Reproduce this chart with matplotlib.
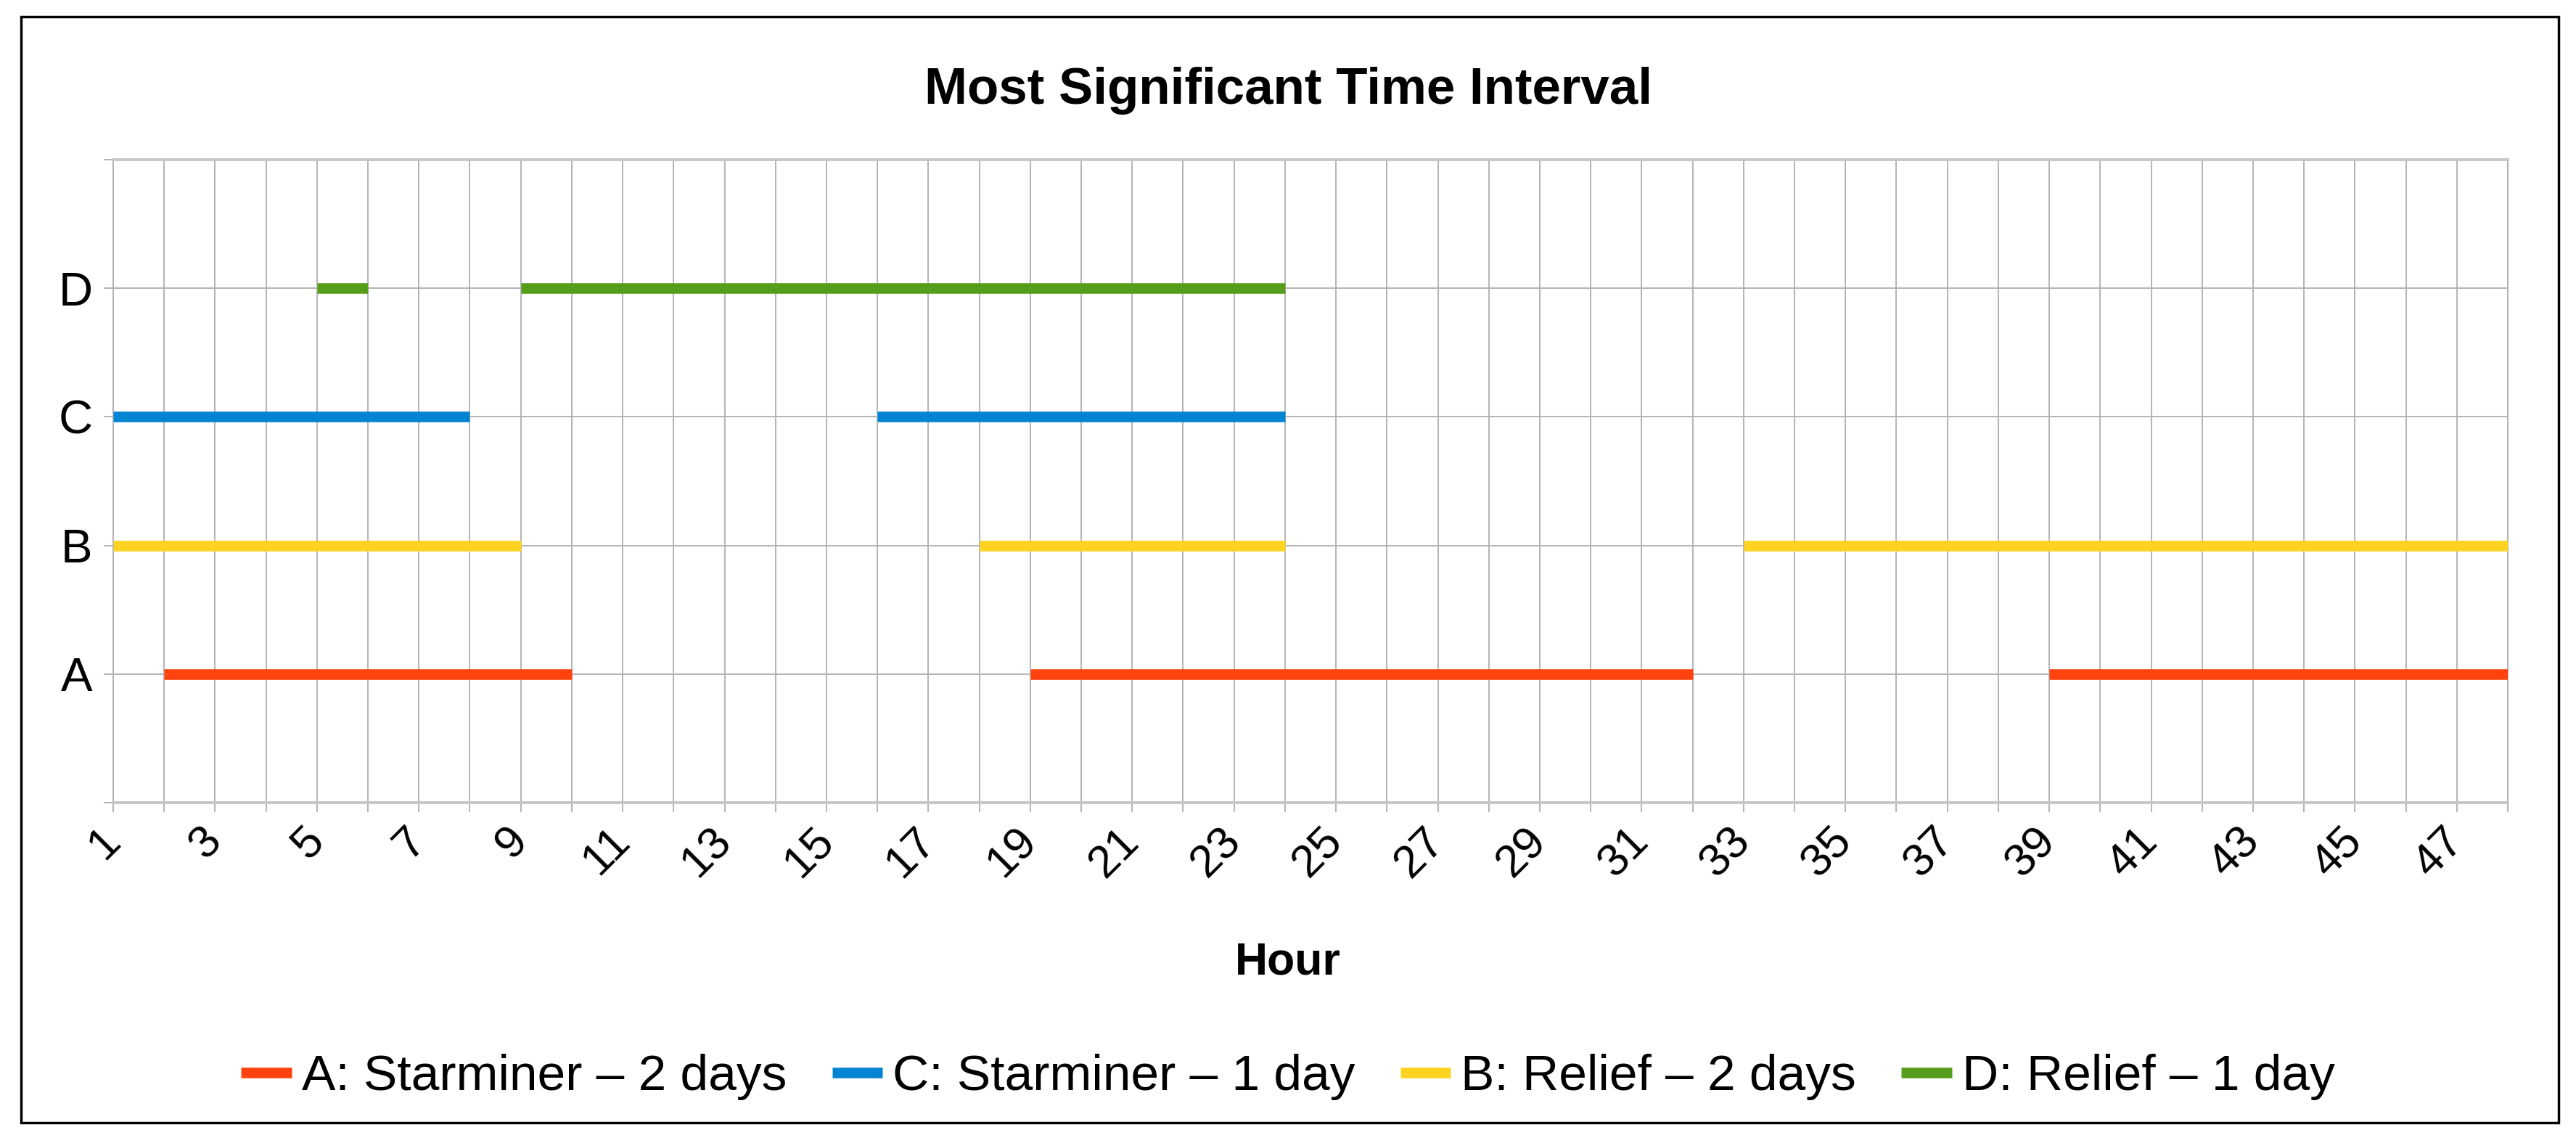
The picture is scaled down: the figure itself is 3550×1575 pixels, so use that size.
import matplotlib
matplotlib.use("Agg")
import matplotlib.pyplot as plt
from matplotlib.patches import Rectangle
from matplotlib.lines import Line2D

plt.rcParams['font.family'] = ['Liberation Sans', 'DejaVu Sans']

# ---- data ----
categories = ["A", "B", "C", "D"]
hours = list(range(1, 49))
hour_labels = ["1", "", "3", "", "5", "", "7", "", "9", "", "11", "", "13", "", "15", "",
               "17", "", "19", "", "21", "", "23", "", "25", "", "27", "", "29", "", "31", "",
               "33", "", "35", "", "37", "", "39", "", "41", "", "43", "", "45", "", "47", ""]

a_starts = [2, 19, 39]
a_ends = [10, 32, 48]
b_starts = [1, 18, 33]
b_ends = [9, 24, 48]
c_starts = [1, 16]
c_ends = [8, 24]
d_starts = [5, 9]
d_ends = [6, 24]

series_names = ["A: Starminer \u2013 2 days", "C: Starminer \u2013 1 day",
                "B: Relief \u2013 2 days", "D: Relief \u2013 1 day"]
colors = {"A": "#ff420e", "B": "#ffd320", "C": "#0084d1", "D": "#579d1c"}

grid_c = "#b3b3b3"

fig = plt.figure(figsize=(35.5, 15.75), dpi=100)
ax = fig.add_axes([156 / 3550, 1 - 1106 / 1575, (3456 - 156) / 3550, (1106 - 220) / 1575])

ax.set_xlim(1, 48)
ax.set_ylim(0, 5)

lw = 10.5
segs = [("A", 1, a_starts, a_ends), ("B", 2, b_starts, b_ends),
        ("C", 3, c_starts, c_ends), ("D", 4, d_starts, d_ends)]
for key, yv, s, e in segs:
    ax.hlines([yv] * len(s), s, e, colors=colors[key], linewidth=lw,
              capstyle="butt", zorder=3)

ax.set_xticks(hours)
ax.set_xticklabels(hour_labels, rotation=45, ha="right", va="center",
                   rotation_mode="anchor", fontsize=45)
ax.set_yticks([0, 1, 2, 3, 4, 5])
ax.set_yticklabels([""] + categories + [""], fontsize=47)
ax.tick_params(axis="both", direction="out", length=9.5, width=1.4, color=grid_c)
ax.tick_params(axis="x", pad=22)
ax.tick_params(axis="y", pad=11)

ax.grid(True, color=grid_c, linewidth=1.4, zorder=0)
ax.set_axisbelow(True)
for side in ["left", "right"]:
    ax.spines[side].set_color(grid_c)
    ax.spines[side].set_linewidth(1.4)
for side in ["top", "bottom"]:
    ax.spines[side].set_color("#c6c6c6")
    ax.spines[side].set_linewidth(2.8)

fig.text(0.5, 1 - 1326 / 1575, "Hour", ha="center", va="center",
         fontsize=45, fontweight="bold")

fig.text(0.5, 1 - 125 / 1575, "Most Significant Time Interval", ha="center", va="center",
         fontsize=51, fontweight="bold")

handles = [Line2D([], [], color=colors[k], linewidth=lw, solid_capstyle="butt")
           for k in ["A", "C", "B", "D"]]
fig.legend(handles, series_names, loc="center", bbox_to_anchor=(0.5, 1 - 1484 / 1575),
           ncol=4, frameon=False, fontsize=50, handlelength=1.0, handletextpad=0.2,
           columnspacing=0.9, borderaxespad=0)

fig.patches.append(Rectangle((29 / 3550, 28 / 1575), (3526 - 29) / 3550, (1552 - 28) / 1575,
                             transform=fig.transFigure, fill=False, edgecolor="black",
                             linewidth=2.5))

fig.savefig("out.png", dpi=100, facecolor="white")
